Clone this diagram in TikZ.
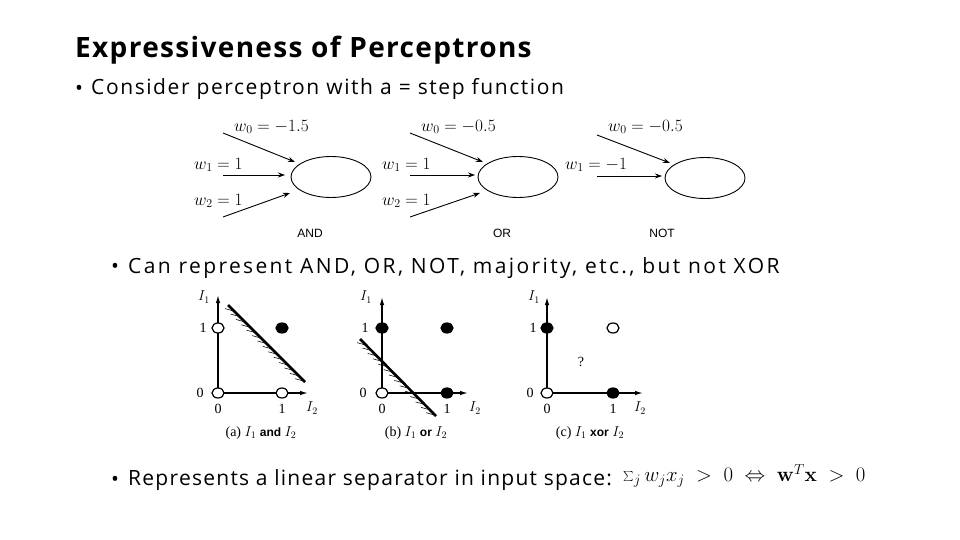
\documentclass[tikz,border=0pt]{standalone}
\usepackage[no-math]{fontspec}
\setmainfont{Open Sans}
\newfontfamily\tms{Liberation Serif}
\newfontfamily\arl{Liberation Sans}
\newfontfamily\bodyfont[LetterSpace=6]{Open Sans}
\newfontfamily\bodyfontA[LetterSpace=7.5]{Open Sans}
\newfontfamily\bodyfontB[LetterSpace=11.3]{Open Sans}
\newfontfamily\titlefont[LetterSpace=4.8]{Open Sans Bold}
\usetikzlibrary{shapes.geometric,arrows.meta,calc}
\begin{document}
\begin{tikzpicture}[x=1pt,y=-1pt,
 neuron/.style={draw,ellipse,minimum width=80pt,minimum height=41pt,inner sep=0,line width=0.9pt},
 warr/.style={-{Stealth[length=7pt,width=5pt]},line width=0.9pt},
 wlab/.style={font=\fontsize{18}{18}\selectfont,inner sep=0,anchor=west},
 glab/.style={font=\arl\fontsize{12}{12}\selectfont,inner sep=0},
 axisline/.style={line width=1.3pt,-{Latex[length=8pt,width=4.5pt]}},
 sepline/.style={line width=2.6pt},
 hatchline/.style={line width=0.55pt},
 opn/.style={draw,ellipse,line width=1.2pt,fill=white,minimum width=12pt,minimum height=10pt,inner sep=0},
 fil/.style={opn,fill=black},
 plab/.style={font=\tms\fontsize{14}{14}\selectfont,inner sep=0},
 capt/.style={font=\tms\fontsize{14}{14}\selectfont,inner sep=0},
 bodytext/.style={anchor=base west,inner sep=0,font=\bodyfont\fontsize{21}{21}\selectfont},
 bul/.style={anchor=base,inner sep=0,font=\fontsize{21}{21}\selectfont}
]
\useasboundingbox[fill=white] (0,0) rectangle (960,540);

% title and bullets
\node[anchor=base west,inner sep=0,font=\titlefont\fontsize{28}{28}\selectfont] (title) at (75,58) {Expressiveness of Perceptrons};
\node[bul] (b1) at (79,96) {•};
\node[bodytext,font=\bodyfontA\fontsize{21}{21}\selectfont] (t1) at (91,95) {Consider perceptron with a = step function};
\node[bul] (b2) at (115,273) {•};
\node[bodytext,font=\bodyfontB\fontsize{21}{21}\selectfont] (t2) at (128,273) {Can represent AND, OR, NOT, majority, etc., but not XOR};
\node[bul] (b3) at (115,486) {•};
\node[bodytext] (t3) at (128,485) {Represents a linear separator in input space:};
\node[anchor=west,inner sep=0,font=\fontsize{22}{22}\selectfont] (formula) at (623,476) {$\sum_j w_j x_j \;>\; 0 \;\Leftrightarrow\; \mathbf{w}^T\mathbf{x} \;>\; 0$};

% perceptrons
\node[neuron] (and) at (331,177) {};
\coordinate (a0s) at (223,133); \coordinate (a0e) at (295,162);
\coordinate (a1s) at (223,175); \coordinate (a1e) at (285,175);
\coordinate (a2s) at (223,217); \coordinate (a2e) at (290,193);
\draw[warr] (a0s) -- (a0e);
\draw[warr] (a1s) -- (a1e);
\draw[warr] (a2s) -- (a2e);
\node[wlab] (la0) at (234,127) {$w_0 = -1.5$};
\node[wlab] (la1) at (194,165) {$w_1 = 1$};
\node[wlab] (la2) at (194,201) {$w_2 = 1$};
\node[glab] (gand) at (310,233) {AND};

\node[neuron] (or) at (518,177) {};
\coordinate (o0s) at (410,133); \coordinate (o0e) at (483,162);
\coordinate (o1s) at (410,175); \coordinate (o1e) at (475,175);
\coordinate (o2s) at (410,217); \coordinate (o2e) at (480,193);
\draw[warr] (o0s) -- (o0e);
\draw[warr] (o1s) -- (o1e);
\draw[warr] (o2s) -- (o2e);
\node[wlab] (lo0) at (421,127) {$w_0 = -0.5$};
\node[wlab] (lo1) at (382,165) {$w_1 = 1$};
\node[wlab] (lo2) at (382,201) {$w_2 = 1$};
\node[glab] (gor) at (502,233) {OR};

\node[neuron] (not) at (705,178) {};
\coordinate (n0s) at (597,135); \coordinate (n0e) at (670,163);
\coordinate (n1s) at (597,176); \coordinate (n1e) at (662,176);
\draw[warr] (n0s) -- (n0e);
\draw[warr] (n1s) -- (n1e);
\node[wlab] (ln0) at (608,127) {$w_0 = -0.5$};
\node[wlab] (ln1) at (565,165) {$w_1 = -1$};
\node[glab] (gnot) at (662,233) {NOT};

% plot (a)
\coordinate (ao) at (218,393);
\coordinate (ay) at (218,295);
\coordinate (ax) at (308,393);
\draw[axisline] (ao) -- (ay);
\draw[axisline] (ao) -- (ax);
\coordinate (asA) at (228,305); \coordinate (asB) at (305,382);
\foreach \t in {0.08,0.15,...,0.99} \draw[hatchline] ($(asA)!\t!(asB)$) -- ++(-9,-2.5);
\draw[sepline] (asA) -- (asB);
\node[opn] (a00) at (218,393) {};
\node[opn] (a01) at (218,328) {};
\node[opn] (a10) at (282,393) {};
\node[fil] (a11) at (282,328) {};
\node[plab] (aI1) at (204,297) {$I_1$};
\node[plab] (ay1) at (203,328) {1};
\node[plab] (ay0) at (200,393) {0};
\node[plab] (ax0) at (218,409) {0};
\node[plab] (ax1) at (282,409) {1};
\node[plab] (aI2) at (312,408) {$I_2$};
\node[capt] (acap) at (261,433) {(a) $I_1$ {\arl\bfseries\fontsize{12}{12}\selectfont and} $I_2$};

% plot (b)
\coordinate (bo) at (382,393);
\coordinate (by) at (382,297);
\coordinate (bx) at (468,393);
\draw[axisline] (bo) -- (by);
\draw[axisline] (bo) -- (bx);
\coordinate (bsA) at (360,339); \coordinate (bsB) at (436,416);
\foreach \t in {0.08,0.15,...,0.99} \draw[hatchline] ($(bsA)!\t!(bsB)$) -- ++(-9,-2.5);
\draw[sepline] (bsA) -- (bsB);
\node[opn] (b00) at (382,393) {};
\node[fil] (b01) at (382,328) {};
\node[fil] (b10) at (447,393) {};
\node[fil] (b11) at (447,328) {};
\node[plab] (bI1) at (366,297) {$I_1$};
\node[plab] (by1) at (365,328) {1};
\node[plab] (by0) at (363,393) {0};
\node[plab] (bx0) at (382,409) {0};
\node[plab] (bx1) at (447,409) {1};
\node[plab] (bI2) at (475,408) {$I_2$};
\node[capt] (bcap) at (416,433) {(b) $I_1$ {\arl\bfseries\fontsize{12}{12}\selectfont or} $I_2$};

% plot (c)
\coordinate (co) at (547,393);
\coordinate (cy) at (547,297);
\coordinate (cx) at (643,393);
\draw[axisline] (co) -- (cy);
\draw[axisline] (co) -- (cx);
\node[opn] (c00) at (547,393) {};
\node[fil] (c01) at (547,328) {};
\node[fil] (c10) at (613,393) {};
\node[opn] (c11) at (613,328) {};
\node[plab] (cq) at (581,362) {?};
\node[plab] (cI1) at (534,297) {$I_1$};
\node[plab] (cy1) at (533,328) {1};
\node[plab] (cy0) at (530,393) {0};
\node[plab] (cx0) at (547,409) {0};
\node[plab] (cx1) at (613,409) {1};
\node[plab] (cI2) at (640,408) {$I_2$};
\node[capt] (ccap) at (590,433) {(c) $I_1$ {\arl\bfseries\fontsize{12}{12}\selectfont xor} $I_2$};
\end{tikzpicture}
\end{document}
